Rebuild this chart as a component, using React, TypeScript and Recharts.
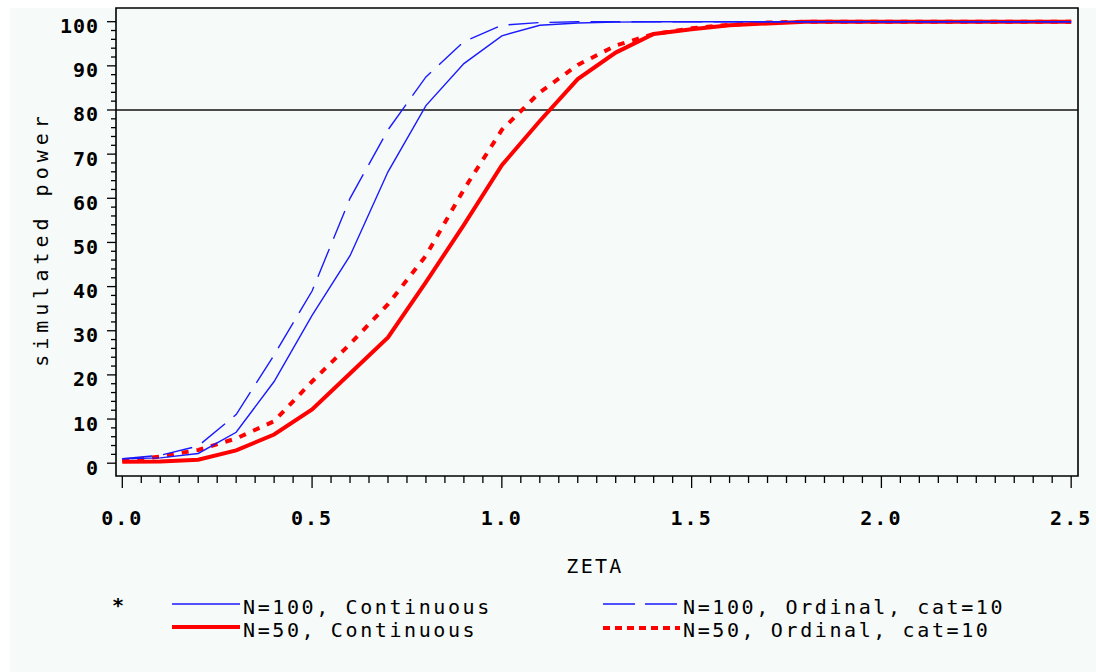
import React from 'react';
import { LineChart, Line, XAxis, YAxis, ReferenceLine, ReferenceArea } from 'recharts';

// ZETA values (x categories)
const zeta = [0, 0.1, 0.2, 0.3, 0.4, 0.5, 0.6, 0.7, 0.8, 0.9, 1.0, 1.1, 1.2, 1.3, 1.4, 1.5, 1.6, 1.7, 1.8, 1.9, 2.0, 2.1, 2.2, 2.3, 2.4, 2.5];

// simulated power (%)
const n100Continuous = [1.0, 1.2, 2.2, 7.0, 18.5, 33.5, 47, 66, 81, 90.5, 96.8, 99.2, 99.7, 99.9, 100, 100, 100, 100, 100, 100, 100, 100, 100, 100, 100, 100];
const n100Ordinal = [1.0, 1.8, 3.9, 11, 24.5, 39, 60, 75.5, 87.5, 95.5, 99.2, 99.8, 100, 100, 100, 100, 100, 100, 100, 100, 100, 100, 100, 100, 100, 100];
const n50Continuous = [0.3, 0.4, 0.8, 2.9, 6.5, 12.2, 20.3, 28.5, 41, 54, 67.5, 77.5, 87, 93, 97.2, 98.3, 99.2, 99.6, 100, 100, 100, 100, 100, 100, 100, 100];
const n50Ordinal = [0.5, 1.5, 3.0, 5.6, 9.5, 18.5, 27, 36, 47, 62, 75.5, 84, 90.2, 94.6, 97.2, 98.5, 99.3, 99.8, 100, 100, 100, 100, 100, 100, 100, 100];

// axis ticks and labels
const xMajorTicks = [0, 0.5, 1.0, 1.5, 2.0, 2.5];
const xMajorLabels = ['0.0', '0.5', '1.0', '1.5', '2.0', '2.5'];
const yMajorTicks = [0, 10, 20, 30, 40, 50, 60, 70, 80, 90, 100];
const yMajorLabels = ['0', '10', '20', '30', '40', '50', '60', '70', '80', '90', '100'];

const seriesNames = ['N=100, Continuous', 'N=50, Continuous', 'N=100, Ordinal, cat=10', 'N=50, Ordinal, cat=10'];

const xDomain = [-0.0166, 2.518];
const yDomain = [-2.9, 103.1];

const data = zeta.map((z, i) => ({
  z,
  n100c: n100Continuous[i],
  n100o: n100Ordinal[i],
  n50c: n50Continuous[i],
  n50o: n50Ordinal[i],
}));

const xAllTicks: number[] = [];
for (let i = 0; i <= 50; i++) xAllTicks.push(Math.round(i * 5) / 100);
const yAllTicks: number[] = [];
for (let v = 0; v <= 100; v += 2) yAllTicks.push(v);

const MONO = '"DejaVu Sans Mono", "Liberation Mono", monospace';
const BLUE = '#1a1aff';
const RED = '#ff0000';
const BG = '#f6faf8';

function XTick(props: any) {
  const { x, y, payload } = props;
  const v = payload.value;
  const idx = xMajorTicks.findIndex((m) => Math.abs(m - v) < 1e-6);
  const major = idx >= 0;
  return (
    <g>
      <line x1={x} x2={x} y1={y} y2={y + (major ? 12 : 7)} stroke="#000" strokeWidth={1.3} />
      {major && (
        <text x={x} y={y + 49} textAnchor="middle" fontFamily={MONO} fontWeight="bold" fontSize={20} letterSpacing={2} fill="#000">
          {xMajorLabels[idx]}
        </text>
      )}
    </g>
  );
}

function YTick(props: any) {
  const { x, y, payload } = props;
  const v = payload.value;
  const idx = yMajorTicks.findIndex((m) => Math.abs(m - v) < 1e-6);
  const major = idx >= 0;
  return (
    <g>
      <line x1={x - (major ? 9 : 5)} x2={x} y1={y} y2={y} stroke="#000" strokeWidth={1.3} />
      {major && (
        <text x={x - 17} y={y + 11.5} textAnchor="end" fontFamily={MONO} fontWeight="bold" fontSize={20} letterSpacing={1} fill="#000">
          {yMajorLabels[idx]}
        </text>
      )}
    </g>
  );
}

export default function App() {
  return (
    <div style={{ position: 'fixed', left: 0, top: 0, width: 1096, height: 672, background: '#ffffff' }}>
      <div style={{ position: 'absolute', left: 10, top: 8, right: 0, bottom: 0, background: BG }} />
      <div style={{ position: 'absolute', left: 0, top: 0 }}>
        <LineChart width={1096} height={672} data={data} margin={{ top: 8, right: 18, bottom: 136, left: 56 }}>
          <XAxis
            dataKey="z"
            type="number"
            domain={xDomain}
            allowDataOverflow
            ticks={xAllTicks}
            interval={0}
            tickSize={0}
            tickMargin={0}
            tickLine={false}
            axisLine={false}
            height={60}
            tick={(p: any) => <XTick {...p} />}
            label={{
              content: () => (
                <text x={595} y={573} textAnchor="middle" fontFamily={MONO} fontSize={20} letterSpacing={2.3} fill="#000">
                  ZETA
                </text>
              ),
            }}
          />
          <YAxis
            type="number"
            domain={yDomain}
            allowDataOverflow
            ticks={yAllTicks}
            interval={0}
            tickSize={0}
            tickMargin={0}
            tickLine={false}
            axisLine={false}
            width={60}
            tick={(p: any) => <YTick {...p} />}
            label={{
              content: () => (
                <text x={48} y={239} transform="rotate(-90, 48, 239)" textAnchor="middle" fontFamily={MONO} fontSize={20} letterSpacing={5} fill="#000">
                  simulated power
                </text>
              ),
            }}
          />
          <ReferenceArea x1={xDomain[0]} x2={xDomain[1]} y1={yDomain[0]} y2={yDomain[1]} fill="none" stroke="#000" strokeWidth={1.6} ifOverflow="visible" />
          <ReferenceLine y={80} stroke="#111" strokeWidth={1.5} />
          <Line type="linear" dataKey="n50c" stroke={RED} strokeWidth={4} dot={false} isAnimationActive={false} />
          <Line type="linear" dataKey="n50o" stroke={RED} strokeWidth={4} strokeDasharray="7 8" dot={false} isAnimationActive={false} />
          <Line type="linear" dataKey="n100c" stroke={BLUE} strokeWidth={1.4} dot={false} isAnimationActive={false} />
          <Line type="linear" dataKey="n100o" stroke={BLUE} strokeWidth={1.4} strokeDasharray="30 11" dot={false} isAnimationActive={false} />
        </LineChart>
      </div>
      <svg width={1096} height={672} style={{ position: 'absolute', left: 0, top: 0, pointerEvents: 'none' }}>
        <text x={118} y={612} textAnchor="middle" fontFamily={MONO} fontWeight="bold" fontSize={20} fill="#000">*</text>
        <line x1={172} x2={240} y1={604} y2={604} stroke={BLUE} strokeWidth={1.5} />
        <text x={243} y={614} fontFamily={MONO} fontSize={20} letterSpacing={2.6} fill="#000">{seriesNames[0]}</text>
        <line x1={172} x2={240} y1={627} y2={627} stroke={RED} strokeWidth={4} />
        <text x={243} y={637} fontFamily={MONO} fontSize={20} letterSpacing={2.6} fill="#000">{seriesNames[1]}</text>
        <line x1={603} x2={680} y1={604} y2={604} stroke={BLUE} strokeWidth={1.5} strokeDasharray="32 10" />
        <text x={683} y={614} fontFamily={MONO} fontSize={20} letterSpacing={2.6} fill="#000">{seriesNames[2]}</text>
        <line x1={603} x2={680} y1={628} y2={628} stroke={RED} strokeWidth={4} strokeDasharray="7 5" />
        <text x={683} y={637} fontFamily={MONO} fontSize={20} letterSpacing={2.6} fill="#000">{seriesNames[3]}</text>
      </svg>
    </div>
  );
}
